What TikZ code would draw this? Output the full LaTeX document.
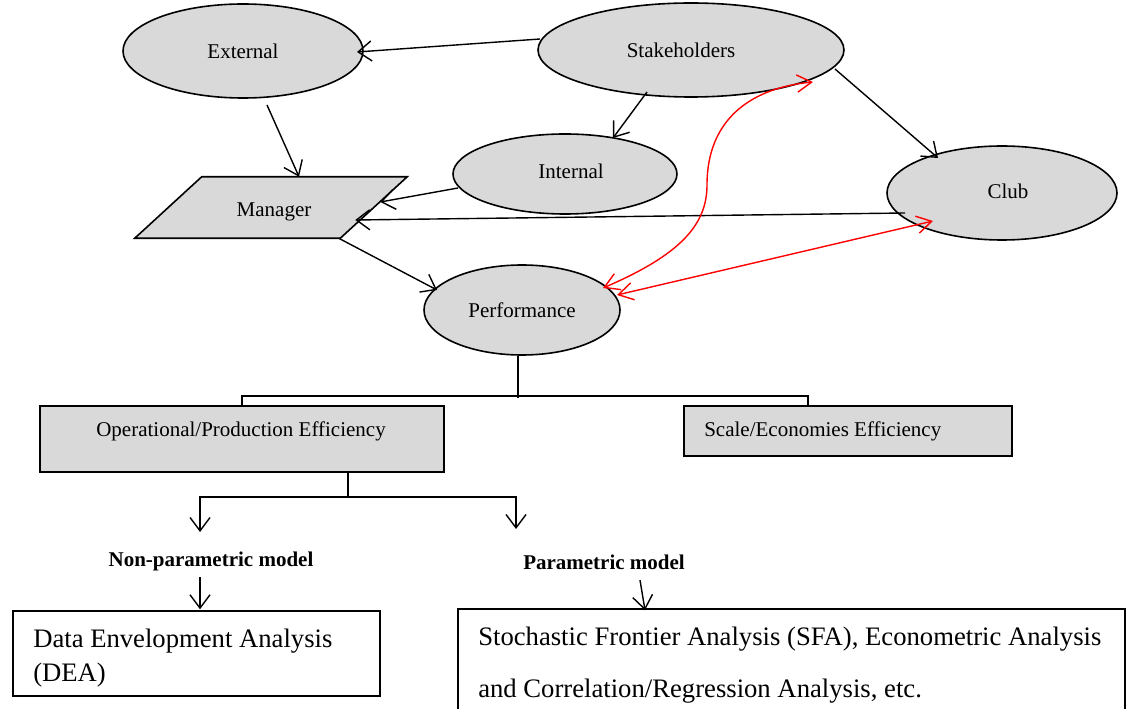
\documentclass[tikz,border=0pt]{standalone}
\usepackage{fontspec}
\setmainfont{Liberation Serif}
\usetikzlibrary{arrows.meta,calc,shapes.geometric,backgrounds}
\definecolor{shapegray}{HTML}{D9D9D9}
\definecolor{linkred}{HTML}{FF0000}
\begin{document}
\begin{tikzpicture}[x=0.75pt,y=-0.75pt,
  font=\fontsize{15.75}{19}\selectfont,
  oval/.style={ellipse, draw, line width=1.2pt, fill=shapegray, inner sep=0pt},
  greybox/.style={rectangle, draw, line width=1.2pt, fill=shapegray, inner sep=0pt},
  whitebox/.style={rectangle, draw, line width=1.1pt, inner sep=0pt},
  link/.style={line width=1.05pt, -{Straight Barb[length=10pt,width=15pt]}},
  both/.style={draw=linkred, line width=1.05pt, {Straight Barb[length=11pt,width=13pt]}-{Straight Barb[length=11pt,width=13pt]}},
  plain/.style={line width=1.05pt},
  bold/.style={font=\fontsize{15.75}{19}\selectfont\bfseries}]
\useasboundingbox (0,0) rectangle (1129,709);
\clip (0,0) rectangle (1129,709);

% ellipses
\node[oval, minimum width=180pt, minimum height=70.5pt] (ext) at (243,51) {External};
\node[oval, minimum width=229.5pt, minimum height=70.5pt] (stake) at (691,50) {\hspace*{-15pt}Stakeholders};
\node[oval, minimum width=168pt, minimum height=60pt] (int) at (565,174) {\hspace*{9pt}\raisebox{1.8pt}[\height][\depth]{Internal}};
\node[oval, minimum width=172.5pt, minimum height=70.5pt] (club) at (1002,193) {\hspace*{9pt}\raisebox{1pt}[\height][\depth]{Club}};
\node[oval, minimum width=147pt, minimum height=67.5pt] (perf) at (522,310) {Performance};

% manager parallelogram
\node[inner sep=0pt, minimum width=153.75pt, minimum height=45.75pt] (man) at (271,207.5) {\hspace*{4.5pt}\raisebox{-3.5pt}[\height][\depth]{Manager}};
\begin{scope}[on background layer]
\draw[line width=1.2pt, fill=shapegray]
  ($(man.north west)+(33.5,0)$) -- ($(man.north east)+(33.5,0)$) --
  ($(man.south east)+(-33.5,0)$) -- ($(man.south west)+(-33.5,0)$) -- cycle;
\end{scope}

% efficiency boxes
\node[greybox, minimum width=303pt, minimum height=49.5pt] (op) at (242,439) {};
\node (optxt) at (241,431) {Operational/Production Efficiency};
\node[greybox, minimum width=246pt, minimum height=37.5pt] (sc) at (848,431) {};
\node[anchor=west, inner sep=0pt] (sctxt) at (704,431) {Scale/Economies Efficiency};

% model labels
\node[bold] (np) at (211,561) {Non-parametric model};
\node[bold] (pm) at (604,562) {Parametric model};

% method boxes
\node[whitebox, minimum width=275.25pt, minimum height=63.75pt] (dea) at (196.5,653.5) {};
\node[font=\fontsize{20}{25.5}\selectfont, anchor=north west, align=left, inner sep=0pt] (deatxt) at (33,629) {Data Envelopment Analysis\\(DEA)};
\node[whitebox, minimum width=500.25pt, minimum height=91.5pt] (sfa) at (791.5,670) {};
\node[font=\fontsize{20}{39}\selectfont, anchor=north west, align=left, inner sep=0pt] (sfatxt) at (478,627) {Stochastic Frontier Analysis (SFA), Econometric Analysis\\and Correlation/Regression Analysis, etc.};

% black connectors
\draw[link] ($(stake)+(-151,-11)$) -- ($(ext)+(114,1)$);
\draw[link] ($(stake)+(-44,42)$) -- ($(int)+(48,-36)$);
\draw[link] ($(stake)+(144,19)$) -- ($(club)+(-64,-35)$);
\draw[link] ($(ext)+(24,54)$) -- ($(man.north)+(28,0)$);
\draw[link] ($(int)+(-107,14)$) -- ($(man.east)+(6.5,-5.5)$);
\draw[link] ($(club)+(-97,20)$) -- ($(man.east)+(-18.5,12.5)$);
\draw[link] ($(man.south east)+(-35,0)$) -- ($(perf)+(-85,-20)$);

% red connectors
\draw[both] ($(perf)+(81,-22)$) .. controls (680,255) and (707,225) .. (707,185)
  .. controls (707,120) and (750,88) .. ($(stake)+(122,32)$);
\draw[both] ($(perf)+(95,-15)$) -- ($(club)+(-69,28)$);

% tree below performance
\draw[plain] ($(perf.south)+(-4,0)$) -- ++(0,42);
\draw[plain] (op.north) -- ++(0,-9) -| ($(sc.north)+(-40,0)$);
\coordinate (fork) at ($(op.south)+(106,24)$);
\coordinate (npin) at (200,532);
\coordinate (pmin) at (516,529);
\draw[plain] ($(op.south)+(106,0)$) -- (fork);
\draw[link] (fork) -| (npin);
\draw[link] (fork) -| (pmin);
\draw[link] ($(np.south)+(-11,2)$) -- ($(dea.north)+(3.5,-1)$);
\draw[link] ($(pm.south)+(36,6)$) -- ($(sfa.north)+(-146.5,2)$);
\end{tikzpicture}
\end{document}
